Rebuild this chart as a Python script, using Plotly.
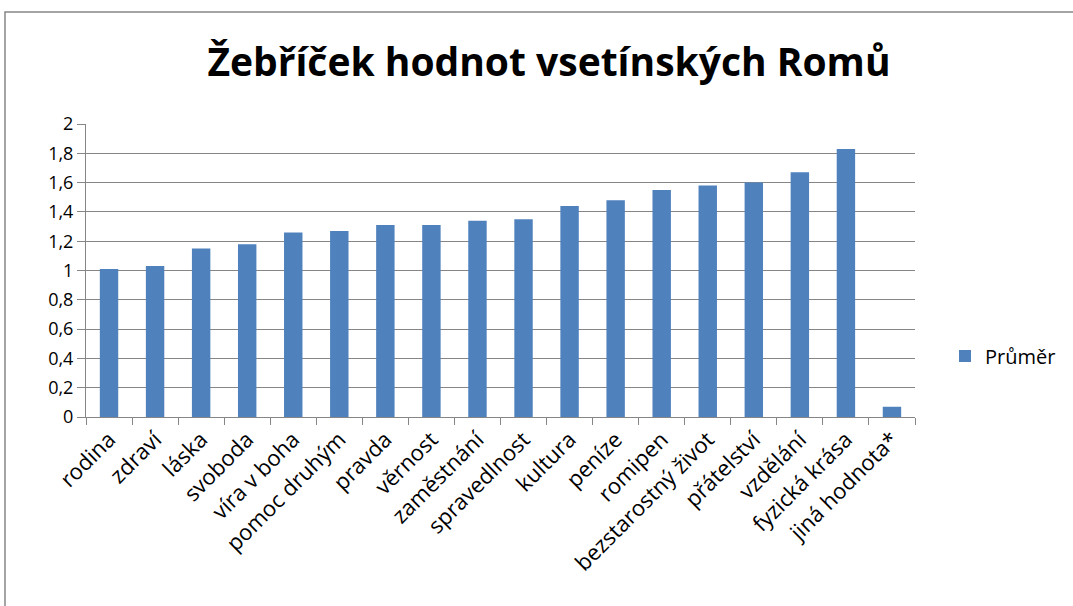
import plotly.graph_objects as go

categories = ["rodina", "zdraví", "láska", "svoboda", "víra v boha", "pomoc druhým",
              "pravda", "věrnost", "zaměstnání", "spravedlnost", "kultura", "peníze",
              "romipen", "bezstarostný život", "přátelství", "vzdělání", "fyzická krása",
              "jiná hodnota*"]
values = [1.01, 1.03, 1.15, 1.18, 1.26, 1.27, 1.31, 1.31, 1.34, 1.35, 1.44, 1.48,
          1.55, 1.58, 1.60, 1.67, 1.83, 0.07]
series_name = "Průměr"
title_text = "Žebříček hodnot vsetínských Romů"
y_ticks = [0, 0.2, 0.4, 0.6, 0.8, 1.0, 1.2, 1.4, 1.6, 1.8, 2.0]

W, H = 1073, 606
L, R, T, B = 86, 915, 124, 417
pw, ph = R - L, B - T

def px(sx):
    return (sx - L) / pw

def py(sy):
    return (B - sy) / ph

fig = go.Figure()
fig.add_trace(go.Bar(
    x=categories, y=values, name=series_name,
    marker=dict(color="#4F81BD", line=dict(width=0)),
    showlegend=True,
))

grid = "#868686"
font = "Open Sans, Calibri, sans-serif"
fig.update_layout(
    width=W, height=H,
    margin=dict(l=L, r=W - R, t=T, b=H - B, autoexpand=False),
    paper_bgcolor="white", plot_bgcolor="white",
    separators=", ",
    bargap=0.6,
    font=dict(family=font, size=18, color="black"),
    title=dict(text="<b>" + title_text + "</b>", x=((205 + 893) / 2) / W, xanchor="center",
               y=1 - 62 / H, yanchor="middle",
               font=dict(family=font, size=39, color="black")),
    xaxis=dict(
        type="category", tickangle=-45, showgrid=False,
        showline=True, linecolor=grid, linewidth=1,
        ticks="outside", tickson="boundaries", ticklen=7, tickcolor=grid,
        tickfont=dict(size=22),
    ),
    yaxis=dict(
        range=[0, 2], tickvals=y_ticks, showgrid=True, gridcolor=grid, gridwidth=1,
        showline=True, linecolor=grid, linewidth=1,
        ticks="outside", ticklen=8, tickcolor=grid, zeroline=False,
        tickfont=dict(size=18),
    ),
    legend=dict(x=px(945), y=py(356), xanchor="left", yanchor="middle",
                font=dict(size=20), bgcolor="rgba(0,0,0,0)", itemwidth=30),
    shapes=[dict(type="rect", xref="paper", yref="paper",
                 x0=px(5), x1=px(1090), y0=py(620), y1=py(12),
                 line=dict(color="#868686", width=1.5), fillcolor="rgba(0,0,0,0)",
                 layer="below")],
)

fig.write_html("out.html", config={"displayModeBar": False},
               post_script="document.body.style.margin='0';document.body.style.overflow='hidden';")
